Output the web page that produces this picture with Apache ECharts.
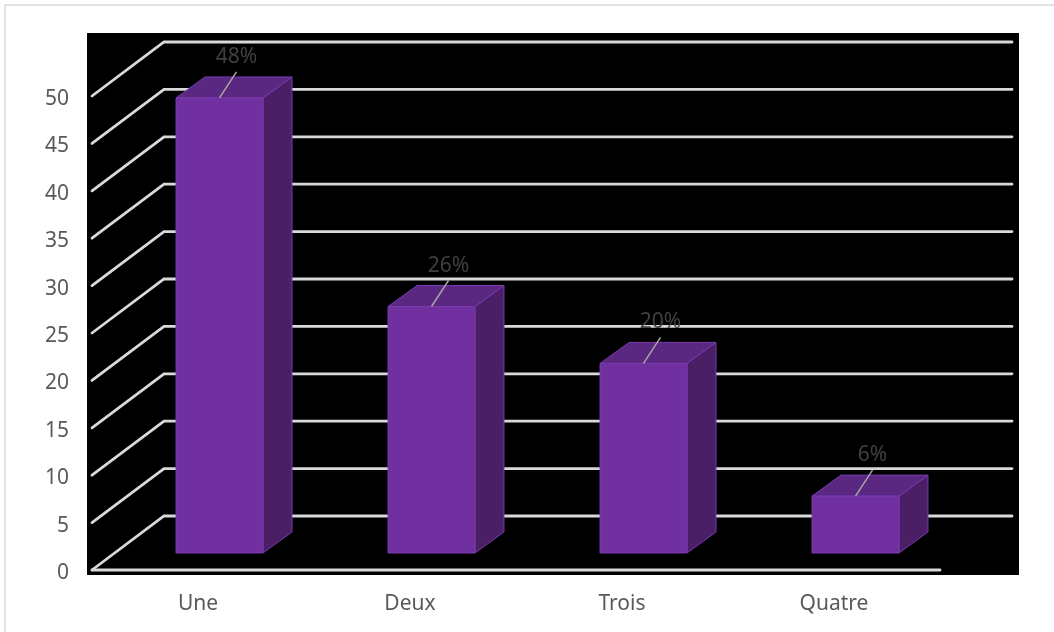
<!DOCTYPE html>
<html>
<head>
<meta charset="utf-8">
<script src="https://cdn.jsdelivr.net/npm/echarts@6/dist/echarts.min.js"></script>
<style>
  html, body { margin: 0; padding: 0; background: #ffffff; }
  #chart { width: 1054px; height: 632px; }
</style>
</head>
<body>
<div id="chart"></div>
<script>
// Categories and values (percent of answers)
const categories = ['Une', 'Deux', 'Trois', 'Quatre'];
const values = [48, 26, 20, 6];
const yTicks = [0, 5, 10, 15, 20, 25, 30, 35, 40, 45, 50];

// Perspective settings for the pseudo-3D walls and boxes
const WALL_DEPTH = [72, -54];   // front plane -> back wall
const BAR_SHIFT = [21.5, -17];  // front plane -> front face of each box
const BAR_DEPTH = [29, -21];    // thickness of each box
const BAR_RATIO = 0.41;         // box width relative to category band

const FONT = '"Noto Sans", "DejaVu Sans", sans-serif';
const GRID_COLOR = '#d9d9d9';

const chart = echarts.init(document.getElementById('chart'), null, { renderer: 'canvas' });

function renderGridLine(params, api) {
  const cs = params.coordSys;
  const v = api.value(1);
  const y = api.coord([0, v])[1];
  const x0 = cs.x;
  const x1 = cs.x + cs.width;
  const style = { stroke: GRID_COLOR, lineWidth: 2.8, lineCap: 'round', fill: null };
  const children = [{
    type: 'polyline',
    shape: { points: [
      [x0, y],
      [x0 + WALL_DEPTH[0], y + WALL_DEPTH[1]],
      [x1 + WALL_DEPTH[0], y + WALL_DEPTH[1]]
    ] },
    style: style
  }];
  if (v === 0) {
    children.push({ type: 'line', shape: { x1: x0, y1: y, x2: x1, y2: y }, style: style });
  }
  return { type: 'group', children: children };
}

function renderBox(params, api) {
  const idx = api.value(0);
  const v = api.value(1);
  const top = api.coord([idx, v]);
  const base = api.coord([idx, 0]);
  const band = api.size([1, 0])[0];
  const w = band * BAR_RATIO;
  const cx = top[0] + BAR_SHIFT[0];
  const xl = cx - w / 2, xr = cx + w / 2;
  const yt = top[1] + BAR_SHIFT[1];
  const yb = base[1] + BAR_SHIFT[1];
  const dx = BAR_DEPTH[0], dy = BAR_DEPTH[1];
  const edge = '#7a3ab2';
  const leadEnd = [cx + 17, yt - 26];
  return {
    type: 'group',
    children: [
      { type: 'polygon', shape: { points: [[xr, yt], [xr + dx, yt + dy], [xr + dx, yb + dy], [xr, yb]] },
        style: { fill: '#4a1f66', stroke: edge, lineWidth: 1 } },
      { type: 'polygon', shape: { points: [[xl, yt], [xr, yt], [xr + dx, yt + dy], [xl + dx, yt + dy]] },
        style: { fill: '#5a2781', stroke: edge, lineWidth: 1 } },
      { type: 'rect', shape: { x: xl, y: yt, width: w, height: yb - yt },
        style: { fill: '#7030a0', stroke: edge, lineWidth: 1 } },
      { type: 'line', shape: { x1: cx, y1: yt, x2: leadEnd[0], y2: leadEnd[1] },
        style: { stroke: '#a6a6a6', lineWidth: 1.5 } },
      { type: 'text', x: leadEnd[0], y: leadEnd[1] - 15,
        style: { text: v + '%', fill: '#404040', font: '21px ' + FONT, align: 'center', verticalAlign: 'middle' } }
    ]
  };
}

chart.setOption({
  animation: false,
  backgroundColor: '#ffffff',
  graphic: [
    { type: 'rect', z: -10, shape: { x: 5, y: 5, width: 1070, height: 650 },
      style: { fill: '#ffffff', stroke: '#d9d9d9', lineWidth: 1.5 } },
    { type: 'rect', z: -9, shape: { x: 87, y: 33, width: 932, height: 542 },
      style: { fill: '#000000' } }
  ],
  grid: { left: 92, right: 114, top: 96, bottom: 62, containLabel: false },
  xAxis: {
    type: 'category',
    data: categories,
    axisLine: { show: false },
    axisTick: { show: false },
    splitLine: { show: false },
    axisLabel: { color: '#595959', fontSize: 21, fontFamily: FONT, margin: 24 }
  },
  yAxis: {
    type: 'value',
    min: 0,
    max: 50,
    interval: 5,
    axisLine: { show: false },
    axisTick: { show: false },
    splitLine: { show: false },
    axisLabel: {
      color: '#595959', fontSize: 21, fontFamily: FONT, margin: 23,
      formatter: '{t|{value}}',
      rich: { t: { color: '#595959', fontSize: 21, fontFamily: FONT, padding: [6, 0, 0, 0] } }
    }
  },
  series: [
    {
      type: 'custom',
      name: 'grid',
      z: 1,
      silent: true,
      renderItem: renderGridLine,
      encode: { x: 0, y: 1 },
      data: yTicks.map(t => [0, t])
    },
    {
      type: 'custom',
      name: 'values',
      z: 2,
      renderItem: renderBox,
      encode: { x: 0, y: 1 },
      data: values.map((v, i) => [i, v])
    }
  ]
});
</script>
</body>
</html>
